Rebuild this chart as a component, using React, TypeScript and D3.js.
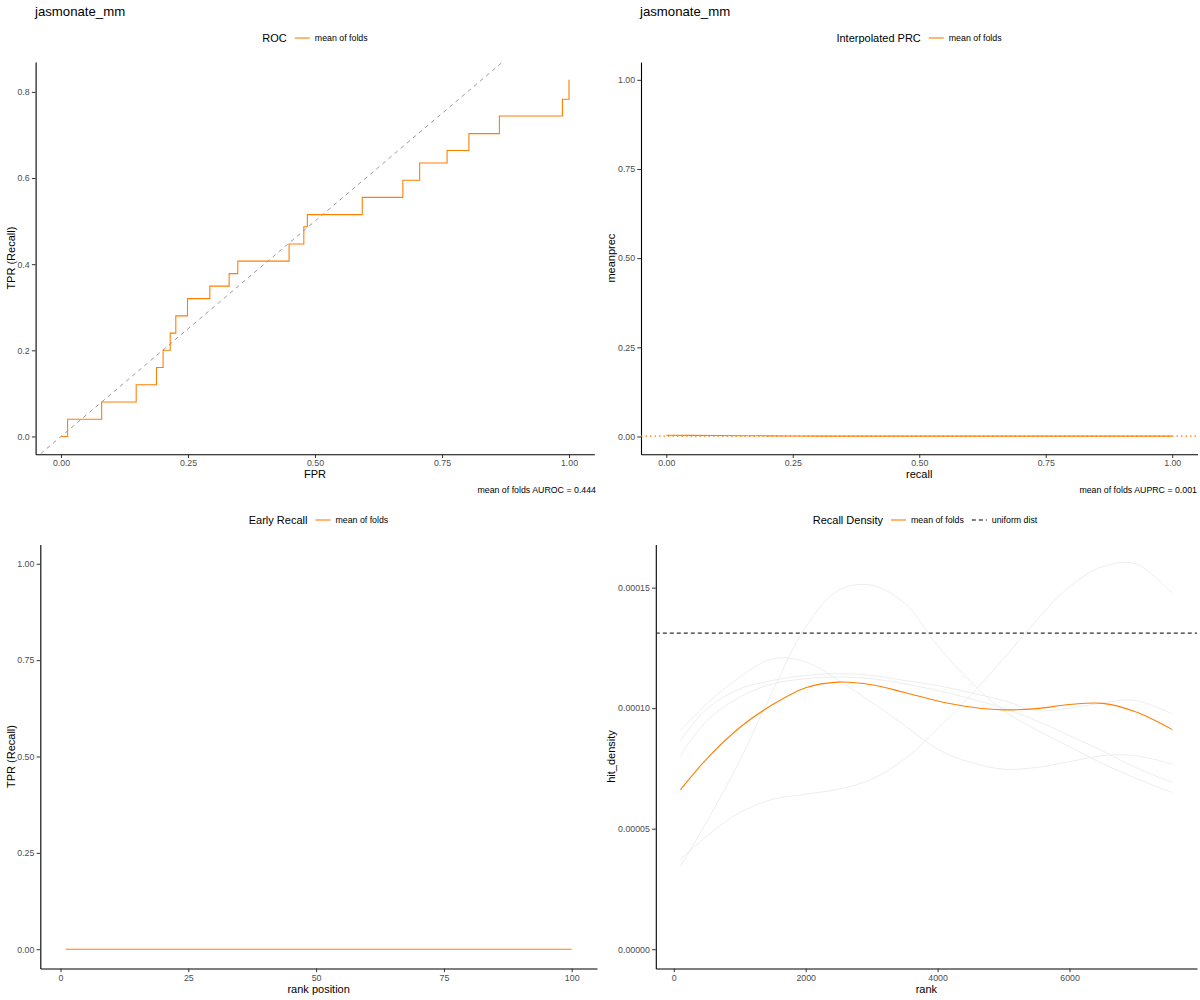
import { useEffect, useRef } from "react";
import * as d3 from "d3";

const ORANGE = "#ff7f00";
const FONT = "'Liberation Sans', Arial, Helvetica, sans-serif";

// ROC, mean of folds (points where each step goes up)
const rocFpr = [0, 0.013, 0.08, 0.148, 0.188, 0.201, 0.215, 0.226, 0.249, 0.293, 0.331, 0.348, 0.449, 0.478, 0.485, 0.593, 0.673, 0.706, 0.76, 0.803, 0.863, 0.987, 1.0];
const rocTpr = [0, 0.04, 0.08, 0.12, 0.16, 0.2, 0.24, 0.28, 0.32, 0.349, 0.378, 0.407, 0.447, 0.487, 0.515, 0.555, 0.595, 0.635, 0.664, 0.703, 0.744, 0.783, 0.828];

// interpolated PRC
const prcRecall = [0, 0.05, 0.1, 0.15, 0.2, 0.25, 0.3, 0.5, 0.75, 1.0];
const prcPrecision = [0.0035, 0.003, 0.0026, 0.0022, 0.0018, 0.0014, 0.0011, 0.001, 0.001, 0.001];
const prcBaseline = 0.001;

// early recall
const earlyRank = [1, 100];
const earlyTpr = [0, 0];

// recall density (values in units of 1e-5)
const densityRank = [100, 500, 1000, 1500, 2000, 2500, 3000, 3500, 4000, 4500, 5000, 5500, 6000, 6500, 7000, 7560];
const densityMean = [6.61, 7.9, 9.2, 10.15, 10.85, 11.08, 10.97, 10.65, 10.3, 10.05, 9.93, 9.98, 10.15, 10.2, 9.85, 9.11];
const foldA = [3.44, 5.29, 7.83, 10.71, 13.37, 14.9, 15.1, 14.35, 12.6, 11.1, 9.9, 9.1, 8.4, 7.7, 7.1, 6.5];
const foldB = [3.72, 4.69, 5.67, 6.22, 6.43, 6.64, 7.05, 7.89, 9.14, 10.53, 12.05, 13.65, 15.04, 15.87, 15.99, 14.76];
const foldC = [9.07, 10.18, 11.29, 12.05, 11.92, 11.15, 10.25, 9.28, 8.3, 7.75, 7.47, 7.54, 7.78, 8.03, 8.03, 7.68];
const foldD = [8.65, 9.97, 10.8, 11.15, 11.36, 11.43, 11.36, 11.15, 10.94, 10.64, 10.32, 9.9, 10.0, 10.22, 10.32, 9.76];
const foldE = [8.03, 9.48, 10.46, 11.01, 11.22, 11.29, 11.22, 11.01, 10.73, 10.39, 10.0, 9.48, 8.86, 8.23, 7.54, 6.92];
const uniformDensity = 13.11;

function expand(lo: number, hi: number) {
    const d = (hi - lo) * 0.05;
    return [lo - d, hi + d];
}

function drawPanel(svg: any, p: any) {
    const x = d3.scaleLinear().domain(p.xDomain).range([p.left, p.right]);
    const y = d3.scaleLinear().domain(p.yDomain).range([p.bottom, p.top]);

    const xg = svg
        .append("g")
        .attr("transform", `translate(0,${p.bottom})`)
        .call(d3.axisBottom(x).tickValues(p.xTicks).tickFormat(p.xFmt).tickSize(3.7).tickSizeOuter(0).tickPadding(2.2));
    const yg = svg
        .append("g")
        .attr("transform", `translate(${p.left},0)`)
        .call(d3.axisLeft(y).tickValues(p.yTicks).tickFormat(p.yFmt).tickSize(3.7).tickSizeOuter(0).tickPadding(2.2));

    [xg, yg].forEach((g) => {
        g.select(".domain").attr("stroke", "#000").attr("stroke-width", 1.1);
        g.selectAll(".tick line").attr("stroke", "#333").attr("stroke-width", 1);
        g.selectAll(".tick text").attr("fill", "#4d4d4d").attr("font-size", 8.8).attr("font-family", FONT);
    });

    // axis titles
    svg.append("text")
        .attr("x", (p.left + p.right) / 2)
        .attr("y", p.bottom + 24)
        .attr("text-anchor", "middle")
        .attr("font-size", 11)
        .attr("font-family", FONT)
        .text(p.xTitle);
    svg.append("text")
        .attr("transform", `translate(${p.yTitleX},${(p.top + p.bottom) / 2}) rotate(-90)`)
        .attr("dy", "0.35em")
        .attr("text-anchor", "middle")
        .attr("font-size", 11)
        .attr("font-family", FONT)
        .text(p.yTitle);

    // clip for lines that run past the panel
    const id = "clip" + Math.round(p.left) + "_" + Math.round(p.top);
    svg.append("clipPath")
        .attr("id", id)
        .append("rect")
        .attr("x", p.left)
        .attr("y", p.top)
        .attr("width", p.right - p.left)
        .attr("height", p.bottom - p.top);
    const plot = svg.append("g").attr("clip-path", `url(#${id})`);

    return { x, y, plot };
}

function drawLegend(svg: any, cx: number, cy: number, title: string, items: any[]) {
    const g = svg.append("g").attr("font-family", FONT);
    const t = g.append("text").attr("x", 0).attr("y", cy).attr("dy", "0.35em").attr("font-size", 11).text(title);
    let pos = t.node().getComputedTextLength() + 8;
    items.forEach((it, i) => {
        g.append("line")
            .attr("x1", pos)
            .attr("x2", pos + 15)
            .attr("y1", cy)
            .attr("y2", cy)
            .attr("stroke", it.color)
            .attr("stroke-width", 1.1)
            .attr("stroke-dasharray", it.dash || null);
        pos += 20;
        const lt = g.append("text").attr("x", pos).attr("y", cy).attr("dy", "0.35em").attr("font-size", 8.8).text(it.label);
        pos += lt.node().getComputedTextLength();
        if (i < items.length - 1) pos += 8;
    });
    g.attr("transform", `translate(${cx - pos / 2},0)`);
}

function caption(svg: any, x: number, y: number, text: string) {
    svg.append("text")
        .attr("x", x)
        .attr("y", y)
        .attr("text-anchor", "end")
        .attr("font-size", 8.8)
        .attr("font-family", FONT)
        .text(text);
}

function title(svg: any, x: number, text: string) {
    svg.append("text")
        .attr("x", x)
        .attr("y", 16)
        .attr("font-size", 13.2)
        .attr("font-family", FONT)
        .text(text);
}

export default function App() {
    const svgRef = useRef<SVGSVGElement | null>(null);

    useEffect(() => {
        if (!svgRef.current) return;
        document.body.style.margin = "0";
        const svg = d3.select(svgRef.current);
        svg.selectAll("*").remove();

        const f2 = (d: any) => d3.format(".2f")(d);
        const f1 = (d: any) => d3.format(".1f")(d);

        // ---------- ROC ----------
        title(svg, 35, "jasmonate_mm");
        const roc = drawPanel(svg, {
            left: 35.6, right: 594.4, top: 62, bottom: 454.3,
            xDomain: expand(d3.min(rocFpr)!, d3.max(rocFpr)!),
            yDomain: expand(d3.min(rocTpr)!, d3.max(rocTpr)!),
            xTicks: [0, 0.25, 0.5, 0.75, 1], yTicks: [0, 0.2, 0.4, 0.6, 0.8],
            xFmt: f2, yFmt: f1, xTitle: "FPR", yTitle: "TPR (Recall)", yTitleX: 11,
        });
        roc.plot.append("line")
            .attr("x1", roc.x(-0.1)).attr("y1", roc.y(-0.1))
            .attr("x2", roc.x(1.1)).attr("y2", roc.y(1.1))
            .attr("stroke", "#9a9a9a").attr("stroke-width", 1).attr("stroke-dasharray", "4,4");
        const rocLine = d3.line<number>()
            .x((d, i) => roc.x(rocFpr[i]))
            .y((d) => roc.y(d))
            .curve(d3.curveStepAfter);
        roc.plot.append("path").attr("d", rocLine(rocTpr)).attr("fill", "none").attr("stroke", ORANGE).attr("stroke-width", 1.1);
        drawLegend(svg, 315, 38, "ROC", [{ label: "mean of folds", color: ORANGE }]);
        caption(svg, 596, 493, "mean of folds AUROC = 0.444");

        // ---------- PRC ----------
        title(svg, 640, "jasmonate_mm");
        const prc = drawPanel(svg, {
            left: 641, right: 1197.5, top: 62, bottom: 454.3,
            xDomain: expand(0, 1), yDomain: expand(0, 1),
            xTicks: [0, 0.25, 0.5, 0.75, 1], yTicks: [0, 0.25, 0.5, 0.75, 1],
            xFmt: f2, yFmt: f2, xTitle: "recall", yTitle: "meanprec", yTitleX: 611,
        });
        prc.plot.append("line")
            .attr("x1", 641).attr("x2", 1197.5)
            .attr("y1", prc.y(prcBaseline)).attr("y2", prc.y(prcBaseline))
            .attr("stroke", ORANGE).attr("stroke-width", 1.1).attr("stroke-dasharray", "1.5,3");
        const prcLine = d3.line<number>()
            .x((d, i) => prc.x(prcRecall[i]))
            .y((d) => prc.y(d));
        prc.plot.append("path").attr("d", prcLine(prcPrecision)).attr("fill", "none").attr("stroke", ORANGE).attr("stroke-width", 1.1);
        drawLegend(svg, 919, 38, "Interpolated PRC", [{ label: "mean of folds", color: ORANGE }]);
        caption(svg, 1197, 493, "mean of folds AUPRC = 0.001");

        // ---------- Early recall ----------
        const er = drawPanel(svg, {
            left: 40.3, right: 597, top: 544.5, bottom: 968.5,
            xDomain: expand(d3.min(earlyRank)!, d3.max(earlyRank)!), yDomain: expand(0, 1),
            xTicks: [0, 25, 50, 75, 100], yTicks: [0, 0.25, 0.5, 0.75, 1],
            xFmt: (d: any) => String(d), yFmt: f2, xTitle: "rank position", yTitle: "TPR (Recall)", yTitleX: 11,
        });
        const erLine = d3.line<number>()
            .x((d, i) => er.x(earlyRank[i]))
            .y((d) => er.y(d));
        er.plot.append("path").attr("d", erLine(earlyTpr)).attr("fill", "none").attr("stroke", ORANGE).attr("stroke-width", 1.1);
        drawLegend(svg, 318.5, 520, "Early Recall", [{ label: "mean of folds", color: ORANGE }]);

        // ---------- Recall density ----------
        const folds = [foldA, foldB, foldC, foldD, foldE];
        const dmax = d3.max(folds.concat([densityMean]).flat())!;
        const den = drawPanel(svg, {
            left: 655.8, right: 1197, top: 544.5, bottom: 968.5,
            xDomain: expand(d3.min(densityRank)!, d3.max(densityRank)!), yDomain: expand(0, dmax),
            xTicks: [0, 2000, 4000, 6000], yTicks: [0, 5, 10, 15],
            xFmt: (d: any) => String(d), yFmt: (d: any) => (d / 1e5).toFixed(5),
            xTitle: "rank", yTitle: "hit_density", yTitleX: 611,
        });
        const denLine = d3.line<number>()
            .x((d, i) => den.x(densityRank[i]))
            .y((d) => den.y(d))
            .curve(d3.curveCatmullRom);
        folds.forEach((f) => {
            den.plot.append("path").attr("d", denLine(f)).attr("fill", "none").attr("stroke", "#ededed").attr("stroke-width", 1);
        });
        den.plot.append("line")
            .attr("x1", 655.8).attr("x2", 1197)
            .attr("y1", den.y(uniformDensity)).attr("y2", den.y(uniformDensity))
            .attr("stroke", "#333").attr("stroke-width", 1.2).attr("stroke-dasharray", "4,3");
        den.plot.append("path").attr("d", denLine(densityMean)).attr("fill", "none").attr("stroke", ORANGE).attr("stroke-width", 1.1);
        drawLegend(svg, 925, 520, "Recall Density", [
            { label: "mean of folds", color: ORANGE },
            { label: "uniform dist", color: "#000", dash: "4,3" },
        ]);
    }, []);

    return <svg ref={svgRef} width={1200} height={1000} style={{ display: "block", background: "#fff" }} />;
}
